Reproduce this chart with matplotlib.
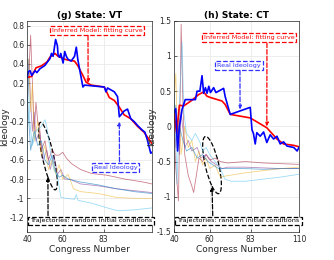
import matplotlib.pyplot as plt
from matplotlib.patches import Ellipse

# ---- VT data ----
vt_real_c = [40, 40.7, 41.7, 42.6, 44.5, 45.5, 47.2, 50, 52.8, 53.7, 54.6, 56, 57, 57.4, 58.2, 58.9, 60.2, 61.1, 62, 62.9,
             64.7, 66.6, 67.6, 68.5, 71.3, 72.2, 83.3, 84.2, 85.1, 88.9, 90.7, 91.7, 92.6, 94.4, 96.3, 98.1, 100, 101.9,
             104.6, 106, 107.4, 109.3, 110]
vt_real_v = [0.26, 0.32, 0.33, 0.28, 0.33, 0.31, 0.35, 0.385, 0.455, 0.51, 0.48, 0.655, 0.59, 0.49, 0.47, 0.51, 0.41, 0.53,
             0.48, 0.45, 0.43, 0.48, 0.575, 0.44, 0.16, 0.18, 0.16, 0.11, 0.15, 0.11, 0.06, -0.15, -0.13, -0.09, -0.07,
             -0.17, -0.2, -0.24, -0.29, -0.31, -0.39, -0.53, -0.52]
vt_fit_c = [40, 42.6, 45, 48, 51.1, 52.8, 55.6, 57.4, 61.1, 63, 66.6, 68.5, 71.3, 73.1, 75.9, 83.3, 86.1, 88.9, 91.7,
            94.4, 98.1, 101.9, 105.5, 109.3, 110]
vt_fit_v = [0.26, 0.27, 0.36, 0.38, 0.42, 0.47, 0.51, 0.48, 0.45, 0.44, 0.43, 0.38, 0.28, 0.21, 0.18, 0.16, 0.05, 0.02,
            -0.05, -0.13, -0.17, -0.25, -0.31, -0.41, -0.43]

vt_t1_c = [40, 41, 42, 43, 44, 45, 46, 47, 48, 50, 52, 54, 56, 58, 60, 62, 65, 70, 76, 85, 95, 105, 110]
vt_t1_v = [-0.1, 0.3, 0.7, 0.2, -0.3, 0.0, -0.2, -0.25, -0.5, -0.4, -0.6, -0.5, -0.55, -0.55, -0.52, -0.58, -0.64,
           -0.7, -0.74, -0.76, -0.8, -0.83, -0.85]
vt_t2_c = [40, 41, 42, 43, 44, 45, 47, 49, 51, 53, 55, 57, 59, 61, 64, 70, 80, 90, 100, 110]
vt_t2_v = [0.1, 0.45, 0.0, -0.3, -0.1, -0.4, -0.3, -0.6, -0.5, -0.7, -0.55, -0.75, -0.7, -0.8, -0.8, -0.85, -0.87,
           -0.9, -0.92, -0.94]
vt_t3_c = [40, 41, 42, 43, 44, 46, 48, 50, 52, 54, 56, 58, 60, 63, 66, 70, 80, 90, 100, 110]
vt_t3_v = [0.4, 0.45, -0.1, 0.2, -0.4, -0.2, -0.55, -0.45, -0.7, -0.6, -0.75, -0.65, -0.8, -0.75, -0.9, -0.93, -0.95,
           -0.99, -1.0, -1.0]
vt_t4_c = [40, 40.5, 41.5, 43, 45, 48, 50, 51, 53, 55, 57, 59, 62, 66.6, 67.6, 68.5, 76, 85, 91, 100, 110]
vt_t4_v = [-0.8, 0.45, -0.2, -0.45, -0.3, -0.25, -0.18, -0.25, -0.5, -0.7, -0.77, -0.99, -1.0, -1.01, -0.96, -1.02,
           -1.05, -1.1, -1.13, -1.12, -1.1]
vt_t5_c = [40, 41, 42, 44, 46, 48, 50, 52, 54, 56, 58, 60, 63, 70, 80, 90, 100, 110]
vt_t5_v = [0.1, -0.2, -0.5, -0.3, -0.45, -0.4, -0.6, -0.65, -0.55, -0.72, -0.78, -0.76, -0.8, -0.83, -0.86, -0.9,
           -0.93, -0.95]

# ---- CT data ----
ct_real_c = [40, 41, 42, 43, 44.5, 46.3, 50, 52, 52.9, 54.5, 55.7, 56.6, 57.6, 58.5, 59.5, 60.4, 62.2, 63.5, 67.8,
             68.7, 71.5, 82.7, 83.7, 84.5, 85.5, 86.4, 88.3, 90.2, 92, 93.9, 95.8, 97.7, 99.5, 101.4, 103.3, 107.1,
             109, 110]
ct_real_v = [0.2, 0.25, -0.35, 0.0, 0.24, 0.38, 0.38, 0.38, 0.5, 0.5, 0.72, 0.47, 0.55, 0.47, 0.57, 0.48, 0.55, 0.48,
             0.54, 0.42, 0.17, 0.27, -0.05, -0.1, -0.25, -0.09, -0.14, -0.08, -0.23, -0.12, -0.18, -0.14, -0.25,
             -0.22, -0.28, -0.3, -0.35, -0.3]
ct_fit_c = [40, 41.5, 43, 45.4, 50, 53.7, 56.6, 58.4, 60.4, 66.9, 68.7, 71.5, 82.7, 92, 97.7, 101.4, 107.1, 110]
ct_fit_v = [0.18, -0.1, 0.3, 0.29, 0.37, 0.45, 0.49, 0.43, 0.41, 0.36, 0.31, 0.17, 0.12, -0.02, -0.18, -0.25, -0.27,
            -0.29]

ct_t1_c = [40, 41, 42.5, 43.5, 44, 45, 46, 48, 50, 51, 52.5, 54, 56, 58, 60, 63, 66, 70, 80, 90, 100, 110]
ct_t1_v = [0.0, -0.6, -1.06, 0.5, 1.45, 0.3, -0.4, -0.7, -0.85, -0.94, -0.7, -0.45, -0.5, -0.4, -0.48, -0.45, -0.5,
           -0.52, -0.5, -0.52, -0.53, -0.54]
ct_t2_c = [40, 41, 42, 43, 44, 46, 48, 50, 53, 55, 58, 61, 64, 67, 70, 80, 90, 100, 110]
ct_t2_v = [0.2, -0.3, 0.1, -0.4, 0.2, -0.3, -0.2, -0.35, -0.3, -0.45, -0.4, -0.5, -0.55, -0.6, -0.58, -0.58, -0.59,
           -0.6, -0.6]
ct_t3_c = [40, 41, 42, 43, 44, 46, 48, 50, 52, 54, 56, 58, 60, 63, 66, 70, 80, 90, 100, 110]
ct_t3_v = [0.4, 0.75, -0.2, 0.1, -0.4, 0.0, -0.3, -0.2, -0.5, -0.35, -0.55, -0.45, -0.6, -0.55, -0.72, -0.7, -0.66,
           -0.63, -0.6, -0.58]
ct_t4_c = [40, 41, 41.7, 43, 44.5, 45.5, 47, 50, 52, 54.6, 56, 58, 60, 63, 66, 68.5, 72, 80, 90, 100, 110]
ct_t4_v = [0.5, -0.2, -0.82, 0.3, 1.2, 0.2, -0.1, -0.2, -0.1, -0.23, -0.35, -0.3, -0.4, -0.5, -0.6, -0.75, -0.78,
           -0.78, -0.75, -0.72, -0.68]
ct_t5_c = [40, 41, 42, 43, 45, 47, 50, 53, 56, 59, 62, 65, 70, 80, 90, 100, 110]
ct_t5_v = [0.1, 0.3, -0.3, 0.0, -0.2, -0.35, -0.3, -0.45, -0.4, -0.5, -0.55, -0.6, -0.6, -0.6, -0.61, -0.6, -0.6]

traj_colors = ['#A2142F', '#7E2F8E', '#EDB120', '#4DBEEE', '#0072BD']

fig = plt.figure(figsize=(3.34, 2.6), dpi=100)
ax1 = fig.add_axes([0.081, 0.108, 0.374, 0.812])
ax2 = fig.add_axes([0.521, 0.108, 0.374, 0.812])

vt_trajs = [(vt_t1_c, vt_t1_v), (vt_t2_c, vt_t2_v), (vt_t3_c, vt_t3_v), (vt_t4_c, vt_t4_v), (vt_t5_c, vt_t5_v)]
ct_trajs = [(ct_t1_c, ct_t1_v), (ct_t2_c, ct_t2_v), (ct_t3_c, ct_t3_v), (ct_t4_c, ct_t4_v), (ct_t5_c, ct_t5_v)]

for ax, trajs, rc, rv, fc, fv in [(ax1, vt_trajs, vt_real_c, vt_real_v, vt_fit_c, vt_fit_v),
                                  (ax2, ct_trajs, ct_real_c, ct_real_v, ct_fit_c, ct_fit_v)]:
    for (c, v), col in zip(trajs, traj_colors):
        ax.plot(c, v, color=col, lw=0.6, alpha=0.55)
    ax.plot(fc, fv, color='#FF0000', lw=1.2)
    ax.plot(rc, rv, color='#0000FF', lw=1.2)
    ax.set_xlim(40, 110)
    ax.grid(True, color='#e6e6e6', lw=0.5)
    ax.set_axisbelow(True)
    ax.tick_params(labelsize=5.5, length=2, width=0.5, colors='#262626', direction='in', pad=2)
    for s in ax.spines.values():
        s.set_linewidth(0.5)
        s.set_color('#262626')
    ax.set_xlabel('Congress Number', fontsize=6.5, color='#262626', labelpad=1)
    ax.set_ylabel('Ideology', fontsize=6.5, color='#262626', labelpad=0)

ax1.set_ylim(-1.35, 0.85)
ax1.set_xticks([40, 60, 83])
ax1.set_yticks([-1.2, -1, -0.8, -0.6, -0.4, -0.2, 0, 0.2, 0.4, 0.6, 0.8])
ax1.set_yticklabels(['-1.2', '-1', '-0.8', '-0.6', '-0.4', '-0.2', '0', '0.2', '0.4', '0.6', '0.8'])
ax1.set_title('(g) State: VT', fontsize=6.5, fontweight='bold', pad=2)

ax2.set_ylim(-1.5, 1.5)
ax2.set_xticks([40, 60, 83, 110])
ax2.set_yticks([-1.5, -1, -0.5, 0, 0.5, 1, 1.5])
ax2.set_yticklabels(['-1.5', '-1', '-0.5', '0', '0.5', '1', '1.5'])
ax2.set_title('(h) State: CT', fontsize=6.5, fontweight='bold', pad=2)


def box(ax, x, y, s, col):
    ax.text(x, y, s, fontsize=4.6, color=col, ha='center', va='center', transform=ax.transAxes,
            bbox=dict(boxstyle='square,pad=0.3', fc='white', ec=col, ls='--', lw=0.9))


def arrow(ax, xy, xytext, col):
    ax.annotate('', xy=xy, xytext=xytext, xycoords='data', textcoords='axes fraction',
                arrowprops=dict(arrowstyle='-|>', color=col, ls='--', lw=0.9, mutation_scale=5,
                                shrinkA=0, shrinkB=0))


# VT annotations
box(ax1, 0.56, 0.955, 'Inferred Model: fitting curve', 'red')
arrow(ax1, (74.2, 0.2), (0.488, 0.93), 'red')
box(ax1, 0.71, 0.306, 'Real Ideology', '#3333ff')
arrow(ax1, (91.7, -0.2), (0.74, 0.332), '#3333ff')
box(ax1, 0.51, 0.052, 'Trajectories: random initial conditions', 'black')
arrow(ax1, (51.7, -0.78), (0.168, 0.077), 'black')
ax1.add_patch(Ellipse((51.7, -0.56), 10.5, 0.44, angle=-3, fill=False, ls='--', lw=0.9, ec='black'))

# CT annotations
box(ax2, 0.6, 0.92, 'Inferred Model: fitting curve', 'red')
arrow(ax2, (92, 0.0), (0.744, 0.895), 'red')
box(ax2, 0.52, 0.79, 'Real Ideology', '#3333ff')
arrow(ax2, (77, 0.24), (0.528, 0.765), '#3333ff')
box(ax2, 0.516, 0.052, 'Trajectories: random initial conditions', 'black')
arrow(ax2, (61.3, -0.86), (0.31, 0.077), 'black')
ax2.add_patch(Ellipse((61.3, -0.55), 10.5, 0.6, angle=-3, fill=False, ls='--', lw=0.9, ec='black'))

fig.savefig('out.png', dpi=100)
